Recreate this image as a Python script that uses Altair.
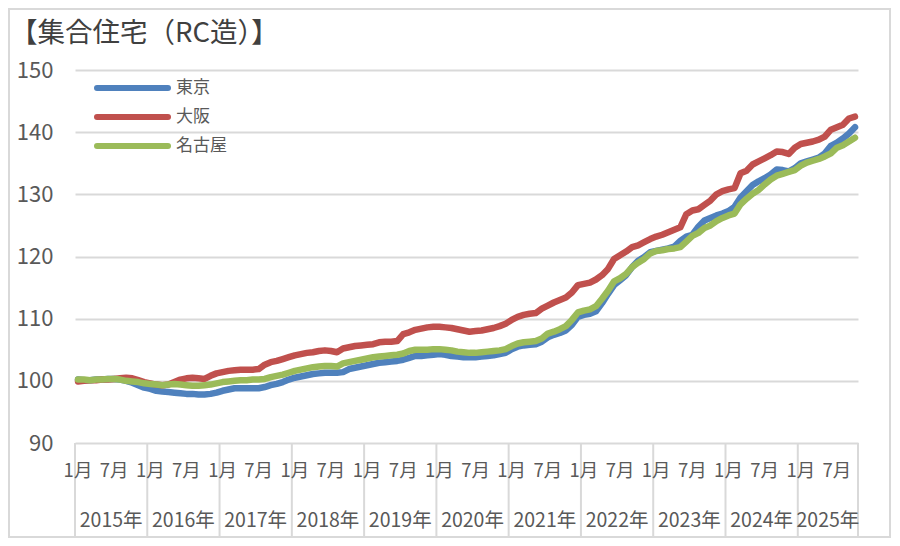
import altair as alt
import pandas as pd

FONT = "Noto Sans CJK JP"

series_names = ["東京", "大阪", "名古屋"]
series_colors = ["#4F81BD", "#C0504D", "#9BBB59"]

tokyo = [
    100.2, 100.1, 100.1, 100.2, 100.2, 100.3, 100.3, 100.2, 100.0, 99.7, 99.3, 98.9,
    98.7, 98.4, 98.3, 98.2, 98.1, 98.0, 97.9, 97.9, 97.8, 97.8, 97.9, 98.1,
    98.4, 98.6, 98.8, 98.8, 98.8, 98.8, 98.8, 99.0, 99.3, 99.5, 99.8, 100.2,
    100.5, 100.7, 100.9, 101.1, 101.2, 101.3, 101.3, 101.3, 101.4, 101.9, 102.1, 102.3,
    102.5, 102.7, 102.9, 103.0, 103.1, 103.2, 103.4, 103.7, 104.0, 104.0, 104.1, 104.2,
    104.3, 104.2, 104.0, 103.9, 103.8, 103.8, 103.8, 103.9, 104.0, 104.1, 104.3, 104.5,
    105.1, 105.5, 105.7, 105.8, 105.9, 106.3, 107.0, 107.4, 107.7, 108.1, 109.0, 110.3,
    110.6, 110.8, 111.2, 112.5, 114.0, 115.4, 116.2, 117.0, 118.3, 119.3, 119.9, 120.7,
    120.9, 121.1, 121.3, 121.6, 122.5, 123.2, 123.5, 124.8, 125.8, 126.2, 126.6, 126.9,
    127.3, 128.0, 129.5, 130.5, 131.5, 132.1, 132.6, 133.2, 134.0, 133.9, 133.7, 134.2,
    135.0, 135.3, 135.6, 135.9, 136.6, 137.8, 138.3, 139.0, 139.8, 140.8,
]

osaka = [
    99.9, 100.0, 100.1, 100.1, 100.2, 100.2, 100.3, 100.4, 100.5, 100.4, 100.1, 99.8,
    99.6, 99.4, 99.3, 99.4, 99.8, 100.2, 100.4, 100.5, 100.4, 100.3, 100.8, 101.2,
    101.4, 101.6, 101.7, 101.8, 101.8, 101.8, 101.9, 102.6, 103.0, 103.2, 103.5, 103.8,
    104.1, 104.3, 104.5, 104.6, 104.8, 104.9, 104.8, 104.6, 105.2, 105.4, 105.6, 105.7,
    105.8, 105.9, 106.2, 106.3, 106.3, 106.4, 107.5, 107.8, 108.2, 108.4, 108.6, 108.7,
    108.7, 108.6, 108.5, 108.3, 108.1, 107.9, 108.0, 108.1, 108.3, 108.5, 108.8, 109.2,
    109.8, 110.3, 110.6, 110.8, 110.9, 111.6, 112.1, 112.6, 113.0, 113.4, 114.2, 115.4,
    115.6, 115.8, 116.3, 117.0, 118.0, 119.6, 120.2, 120.8, 121.5, 121.8, 122.3, 122.8,
    123.2, 123.5, 123.9, 124.3, 124.7, 126.8, 127.4, 127.6, 128.3, 129.0, 130.0, 130.5,
    130.8, 131.0, 133.4, 133.8, 134.8, 135.3, 135.8, 136.3, 136.9, 136.8, 136.5, 137.5,
    138.1, 138.3, 138.5, 138.8, 139.3, 140.4, 140.8, 141.2, 142.2, 142.5,
]

nagoya = [
    100.2, 100.2, 100.1, 100.2, 100.2, 100.3, 100.3, 100.2, 100.0, 99.9, 99.8, 99.6,
    99.5, 99.4, 99.3, 99.4, 99.5, 99.4, 99.3, 99.2, 99.2, 99.3, 99.4, 99.6,
    99.8, 99.9, 100.0, 100.1, 100.1, 100.2, 100.2, 100.3, 100.6, 100.8, 101.0, 101.3,
    101.6, 101.8, 102.0, 102.2, 102.3, 102.4, 102.4, 102.3, 102.8, 103.0, 103.2, 103.4,
    103.6, 103.8, 103.9, 104.0, 104.1, 104.2, 104.4, 104.8, 105.0, 105.0, 105.0, 105.1,
    105.1, 105.0, 104.9, 104.7, 104.6, 104.5, 104.5, 104.6, 104.7, 104.8, 104.9, 105.1,
    105.6, 106.0, 106.2, 106.3, 106.4, 106.8, 107.6, 107.9, 108.3, 108.8, 109.8, 111.0,
    111.3, 111.5, 112.0, 113.2, 114.5, 116.0, 116.5, 117.2, 118.3, 119.0, 119.6, 120.5,
    120.9, 121.0, 121.2, 121.3, 121.5, 122.4, 123.3, 123.8, 124.6, 125.0, 125.7, 126.2,
    126.6, 126.9, 128.4, 129.3, 130.1, 130.7, 131.6, 132.4, 133.0, 133.3, 133.6, 133.9,
    134.6, 135.1, 135.4, 135.7, 136.1, 136.6, 137.5, 137.9, 138.5, 139.1,
]

year_labels = ["2015年", "2016年", "2017年", "2018年", "2019年", "2020年",
               "2021年", "2022年", "2023年", "2024年", "2025年"]
month_tick_labels = ["1月", "7月"]
y_ticks = [90, 100, 110, 120, 130, 140, 150]
title_text = "【集合住宅（RC造）】"

n = len(tokyo)
all_series = [tokyo, osaka, nagoya]

W, H = 783, 373
GRID = "#D9D9D9"
LABEL = "#595959"

x_scale = alt.Scale(domain=[-0.5, n - 0.5], nice=False, zero=False)
y_enc = alt.Y(
    "value:Q",
    scale=alt.Scale(domain=[90, 150], nice=False, zero=False),
    axis=alt.Axis(values=y_ticks, grid=True, gridColor=GRID, gridWidth=2,
                  domain=False, ticks=False, labelFontSize=22, labelColor=LABEL,
                  labelFont=FONT, labelPadding=22, title=None),
)

layers = []

# outer border
border_df = pd.DataFrame({"k": [0]})
layers.append(
    alt.Chart(border_df).mark_rect(filled=False, stroke=GRID, strokeWidth=2).encode(
        x=alt.value(-66), x2=alt.value(W + 32), y=alt.value(-61), y2=alt.value(H + 94)
    )
)

# year dividers in the label table
div_df = pd.DataFrame({"i": [12 * k - 0.5 for k in range(len(year_labels))] + [n - 0.5]})
layers.append(
    alt.Chart(div_df).mark_rule(color=GRID, strokeWidth=2).encode(
        x=alt.X("i:Q", scale=x_scale, axis=None),
        y=alt.value(H), y2=alt.value(H + 94),
    )
)

# lines, drawn in order
for name, color, vals in zip(series_names, series_colors, all_series):
    df = pd.DataFrame({"i": list(range(n)), "value": vals})
    layers.append(
        alt.Chart(df).mark_line(color=color, strokeWidth=6.5, strokeCap="round",
                                strokeJoin="round").encode(
            x=alt.X("i:Q", scale=x_scale, axis=None),
            y=y_enc,
        )
    )

# month labels
mdf = pd.DataFrame({
    "i": [i for i in range(n) if i % 6 == 0],
    "lab": [month_tick_labels[(i // 6) % 2] for i in range(n) if i % 6 == 0],
})
layers.append(
    alt.Chart(mdf).mark_text(font=FONT, fontSize=18.5, color=LABEL, baseline="middle",
                             align="center").encode(
        x=alt.X("i:Q", scale=x_scale, axis=None),
        y=alt.value(401),
        text="lab:N",
    )
)

# year labels
ydf = pd.DataFrame({
    "i": [(12 * k - 0.5 + min(12 * k + 11.5, n - 0.5)) / 2 for k in range(len(year_labels))],
    "lab": year_labels,
})
layers.append(
    alt.Chart(ydf).mark_text(font=FONT, fontSize=19.5, color=LABEL, baseline="middle",
                             align="center").encode(
        x=alt.X("i:Q", scale=x_scale, axis=None),
        y=alt.value(451),
        text="lab:N",
    )
)

# title
tdf = pd.DataFrame({"t": [title_text]})
layers.append(
    alt.Chart(tdf).mark_text(font=FONT, fontSize=27.5, color="#404040", align="left",
                             baseline="middle").encode(
        x=alt.value(-65), y=alt.value(-36), text="t:N"
    )
)

# legend
for k, (name, color) in enumerate(zip(series_names, series_colors)):
    ly = 18 + 29 * k
    ldf = pd.DataFrame({"t": [name]})
    layers.append(
        alt.Chart(ldf).mark_rule(color=color, strokeWidth=6, strokeCap="round").encode(
            x=alt.value(22), x2=alt.value(93), y=alt.value(ly)
        )
    )
    layers.append(
        alt.Chart(ldf).mark_text(font=FONT, fontSize=17, color=LABEL, align="left",
                                 baseline="middle").encode(
            x=alt.value(101), y=alt.value(ly), text="t:N"
        )
    )

chart = alt.layer(*layers).properties(
    width=W, height=H,
    autosize=alt.AutoSizeParams(type="none"),
    padding={"left": 67, "top": 62, "right": 34, "bottom": 96},
    background="white",
).configure_view(stroke=None)

chart.save("out.html", embed_options={"renderer": "svg", "actions": False})
